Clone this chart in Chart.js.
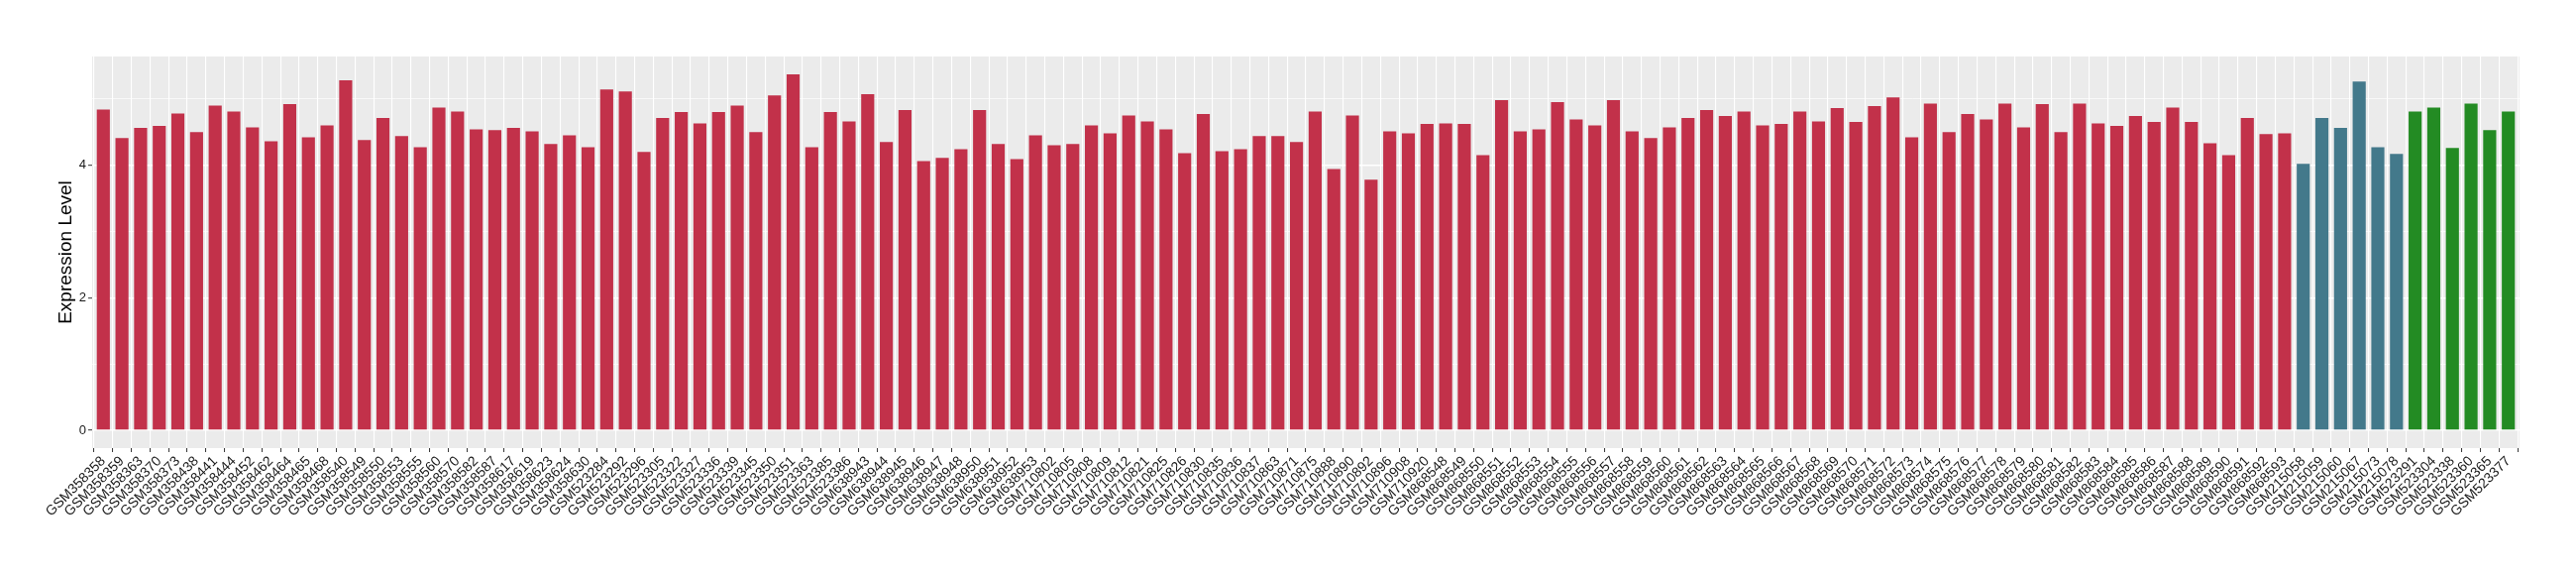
<!DOCTYPE html>
<html>
<head>
<meta charset="utf-8">
<script src="https://cdn.jsdelivr.net/npm/chart.js@4"></script>
<style>
html,body{margin:0;padding:0;background:#ffffff;}
#wrap{width:2600px;height:580px;}
</style>
</head>
<body>
<div id="wrap"><canvas id="c" width="2600" height="580"></canvas></div>
<script>
// ---- data ----
const categoriesA = [
"GSM358358","GSM358359","GSM358363","GSM358370","GSM358373","GSM358438","GSM358441","GSM358444","GSM358452","GSM358462",
"GSM358464","GSM358465","GSM358468","GSM358540","GSM358549","GSM358550","GSM358553","GSM358555","GSM358560","GSM358570",
"GSM358582","GSM358587","GSM358617","GSM358619","GSM358623","GSM358624","GSM358630","GSM523284","GSM523292","GSM523296",
"GSM523305","GSM523322","GSM523327","GSM523336","GSM523339","GSM523345","GSM523350","GSM523351","GSM523363","GSM523385",
"GSM523386","GSM638943","GSM638944","GSM638945","GSM638946","GSM638947","GSM638948","GSM638950","GSM638951","GSM638952",
"GSM638953","GSM710802","GSM710805","GSM710808","GSM710809","GSM710812","GSM710821","GSM710825","GSM710826","GSM710830",
"GSM710835","GSM710836","GSM710837","GSM710863","GSM710871","GSM710875","GSM710888","GSM710890","GSM710892","GSM710896",
"GSM710908","GSM710920","GSM868548","GSM868549","GSM868550","GSM868551","GSM868552","GSM868553","GSM868554","GSM868555",
"GSM868556","GSM868557","GSM868558","GSM868559","GSM868560","GSM868561","GSM868562","GSM868563","GSM868564","GSM868565",
"GSM868566","GSM868567","GSM868568","GSM868569","GSM868570","GSM868571","GSM868572","GSM868573","GSM868574","GSM868575",
"GSM868576","GSM868577","GSM868578","GSM868579","GSM868580","GSM868581","GSM868582","GSM868583","GSM868584","GSM868585",
"GSM868586","GSM868587","GSM868588","GSM868589","GSM868590","GSM868591","GSM868592","GSM868593"
];
const valuesA = [
4.84,4.41,4.56,4.59,4.78,4.50,4.90,4.81,4.57,4.36,
4.92,4.42,4.60,5.28,4.38,4.71,4.44,4.27,4.87,4.81,
4.54,4.53,4.56,4.51,4.32,4.45,4.27,5.14,5.11,4.20,
4.71,4.80,4.63,4.80,4.90,4.50,5.05,5.37,4.27,4.80,
4.66,5.07,4.35,4.83,4.06,4.11,4.24,4.83,4.32,4.09,
4.45,4.30,4.32,4.60,4.48,4.75,4.66,4.54,4.18,4.77,
4.21,4.24,4.44,4.44,4.35,4.81,3.94,4.75,3.78,4.51,
4.48,4.62,4.63,4.62,4.15,4.98,4.51,4.54,4.95,4.69,
4.60,4.98,4.51,4.41,4.57,4.71,4.83,4.74,4.81,4.60,
4.62,4.81,4.66,4.86,4.65,4.89,5.02,4.42,4.93,4.50,
4.77,4.69,4.93,4.57,4.92,4.50,4.93,4.63,4.59,4.74,
4.65,4.87,4.65,4.33,4.15,4.71,4.47,4.48
];
const categoriesB = ["GSM215058","GSM215059","GSM215060","GSM215067","GSM215073","GSM215078"];
const valuesB = [4.02,4.71,4.56,5.26,4.27,4.17];
const categoriesC = ["GSM523291","GSM523304","GSM523338","GSM523360","GSM523365","GSM523377"];
const valuesC = [4.81,4.87,4.26,4.93,4.53,4.81];
const yTickLabels = ["0","2","4"];
const yTickValues = [0,2,4];
const yMinorValues = [1,3,5];
const yTitle = "Expression Level";

// ---- build ----
const colorA = "#C2314A", colorB = "#43798B", colorC = "#238B23";
const categories = categoriesA.concat(categoriesB, categoriesC);
const values = valuesA.concat(valuesB, valuesC);
const colors = categoriesA.map(()=>colorA).concat(categoriesB.map(()=>colorB), categoriesC.map(()=>colorC));
const points = values.map((v,i)=>({x:i+1, y:v}));
const yMax = Math.max(...values);
const ySpan = yMax;

const panelBg = {
  id:'panelBg',
  beforeDraw(chart){
    const {ctx, chartArea:a} = chart;
    ctx.save();
    ctx.fillStyle = '#EBEBEB';
    ctx.fillRect(a.left, a.top, a.right-a.left, a.bottom-a.top);
    ctx.restore();
  }
};

const FONT = "'Liberation Sans', Arial, Helvetica, sans-serif";

new Chart(document.getElementById('c'), {
  type:'bar',
  data:{ datasets:[{ data:points, backgroundColor:colors, borderWidth:0, barPercentage:0.7, categoryPercentage:1.0 }] },
  plugins:[panelBg],
  options:{
    responsive:false, animation:false, devicePixelRatio:1,
    layout:{ padding:{ left:0, right:57, top:57, bottom:0 } },
    plugins:{ legend:{display:false}, tooltip:{enabled:false} },
    scales:{
      x:{
        type:'linear', min:0.4, max:categories.length+0.6, offset:false,
        afterBuildTicks:(s)=>{ s.ticks = categories.map((_,i)=>({value:i+1})); },
        afterFit:(s)=>{ s.height = 128; },
        border:{display:false},
        grid:{ color:'#FFFFFF', lineWidth:1.1, drawTicks:true, tickLength:4, tickColor:'#333333', tickWidth:1 },
        ticks:{ autoSkip:false, maxRotation:45, minRotation:45, padding:1, color:'#1A1A1A',
          font:{ family:FONT, size:14 },
          callback:(v)=>categories[Math.round(v)-1] }
      },
      y:{
        type:'linear', min:-0.05*ySpan, max:yMax+0.05*ySpan,
        afterBuildTicks:(s)=>{ s.ticks = yTickValues.concat(yMinorValues).sort((a,b)=>a-b).map(v=>({value:v})); },
        afterFit:(s)=>{ s.width = 93; },
        border:{display:false},
        grid:{ color:'#FFFFFF',
          lineWidth:(c)=> yTickValues.includes(c.tick && c.tick.value) ? 1.4 : 0.7,
          drawTicks:true, tickLength:4,
          tickColor:(c)=> yTickValues.includes(c.tick && c.tick.value) ? '#333333' : 'rgba(0,0,0,0)',
          tickWidth:1 },
        ticks:{ padding:2, color:'#1A1A1A', font:{ family:FONT, size:13 },
          callback:(v)=>{ const k = yTickValues.indexOf(v); return k>=0 ? yTickLabels[k] : ''; } },
        title:{ display:true, text:yTitle, color:'#000000', font:{ family:FONT, size:19 }, padding:{top:55,bottom:0} }
      }
    }
  }
});
</script>
</body>
</html>
